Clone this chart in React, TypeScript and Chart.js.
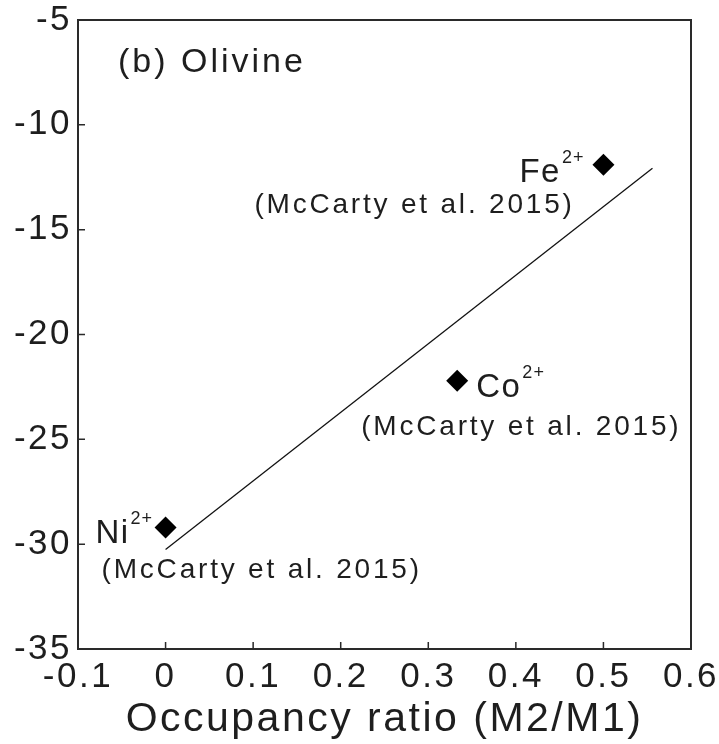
import React, { useEffect, useRef } from "react";
import { Chart, registerables } from "chart.js";

Chart.register(...registerables);

// ---- data ----
const ions = ["Ni", "Co", "Fe"];
const occupancy = [0, 0.333, 0.5];
const energies = [-29.2, -22.2, -11.9];
const charge = "2+";
const source = "(McCarty et al. 2015)";
const panelLabel = "(b) Olivine";
const fitX = [0, 0.556];
const fitY = [-30.25, -12.07];
const xTicks = [0, 0.1, 0.2, 0.3, 0.4, 0.5];
const yTicks = [-10, -15, -20, -25, -30];
const xTitle = "Occupancy ratio (M2/M1)";

const FONT = '"Liberation Sans", Arial, Helvetica, sans-serif';
const TEXT = "#1e1e1e";

const framePlugin = {
  id: "frame",
  beforeDraw(chart: any) {
    chart.ctx.letterSpacing = "2.5px";
  },
  afterDatasetsDraw(chart: any) {
    const { ctx, chartArea: a, scales } = chart;
    const xs = scales.x;
    const ys = scales.y;
    ctx.save();
    ctx.strokeStyle = "#2a2a2a";
    ctx.lineWidth = 2;
    ctx.strokeRect(a.left, a.top, a.right - a.left, a.bottom - a.top);
    ctx.lineWidth = 1.5;
    ctx.beginPath();
    xTicks.forEach((v) => {
      const px = xs.getPixelForValue(v);
      ctx.moveTo(px, a.bottom);
      ctx.lineTo(px, a.bottom - 7);
    });
    yTicks.forEach((v) => {
      const py = ys.getPixelForValue(v);
      ctx.moveTo(a.left, py);
      ctx.lineTo(a.left + 7, py);
    });
    ctx.stroke();

    // annotations
    ctx.fillStyle = TEXT;
    ctx.textBaseline = "alphabetic";
    ctx.textAlign = "left";
    ctx.letterSpacing = "3px";
    ctx.font = `34px ${FONT}`;
    ctx.fillText(panelLabel, a.left + 40, a.top + 52);

    const layout: Record<string, any> = {
      Ni: { ionRight: -36, ionBase: 16, srcLeft: -64, srcBase: 51 },
      Co: { ionLeft: 19, ionBase: 16, srcLeft: -96, srcBase: 54 },
      Fe: { ionLeft: -84, ionBase: 17, srcLeft: -349, srcBase: 48 },
    };
    ions.forEach((ion, i) => {
      const px = xs.getPixelForValue(occupancy[i]);
      const py = ys.getPixelForValue(energies[i]);
      const L = layout[ion];
      ctx.font = `33px ${FONT}`;
      ctx.letterSpacing = "1.5px";
      const w = ctx.measureText(ion).width;
      const ix = L.ionRight !== undefined ? px + L.ionRight - w : px + L.ionLeft;
      const base = py + L.ionBase;
      ctx.fillText(ion, ix, base);
      ctx.font = `18px ${FONT}`;
      ctx.letterSpacing = "1px";
      ctx.fillText(charge, ix + w + 1, base - 19);
      ctx.font = `28px ${FONT}`;
      ctx.letterSpacing = "2.8px";
      ctx.fillText(source, px + L.srcLeft, py + L.srcBase);
    });
    ctx.restore();
  },
};

export default function App() {
  const ref = useRef<HTMLCanvasElement>(null);
  useEffect(() => {
    if (!ref.current) return;
    const chart = new Chart(ref.current, {
      type: "scatter",
      data: {
        datasets: [
          {
            type: "line",
            data: fitX.map((x, i) => ({ x, y: fitY[i] })),
            borderColor: "#111",
            borderWidth: 1.3,
            pointRadius: 0,
            fill: false,
          } as any,
          {
            data: occupancy.map((x, i) => ({ x, y: energies[i] })),
            pointStyle: "rectRot",
            pointRadius: 11,
            pointHoverRadius: 11,
            backgroundColor: "#000",
            borderWidth: 0,
          },
        ],
      },
      options: {
        animation: false,
        responsive: false,
        devicePixelRatio: 1,
        events: [],
        layout: { padding: { top: 20, right: 28, left: 0, bottom: 0 } },
        plugins: { legend: { display: false }, tooltip: { enabled: false } },
        scales: {
          x: {
            type: "linear",
            min: -0.1,
            max: 0.6,
            grid: { display: false, drawTicks: false },
            border: { display: false },
            ticks: {
              stepSize: 0.1,
              color: TEXT,
              padding: 7,
              font: { size: 35, family: FONT },
              callback: (v: any) => String(Math.round(Number(v) * 10) / 10),
            },
            title: {
              display: true,
              text: xTitle,
              color: TEXT,
              font: { size: 41, family: FONT },
              padding: { top: 0, bottom: 0 },
            },
            afterFit: (s: any) => {
              s.height = 95;
              s.paddingLeft = 0;
              s.paddingRight = 0;
              s.paddingTop = 0;
              s.paddingBottom = 0;
            },
          },
          y: {
            type: "linear",
            min: -35,
            max: -5,
            grid: { display: false, drawTicks: false },
            border: { display: false },
            ticks: {
              stepSize: 5,
              color: TEXT,
              padding: 6,
              font: { size: 35, family: FONT },
            },
            afterFit: (s: any) => {
              s.width = 78;
              s.paddingLeft = 0;
              s.paddingRight = 0;
              s.paddingTop = 0;
              s.paddingBottom = 0;
            },
          },
        },
      },
      plugins: [framePlugin],
    });
    return () => chart.destroy();
  }, []);
  return (
    <canvas
      ref={ref}
      width={719}
      height={744}
      style={{ position: "absolute", left: 0, top: 0, display: "block", background: "#fff" }}
    />
  );
}
